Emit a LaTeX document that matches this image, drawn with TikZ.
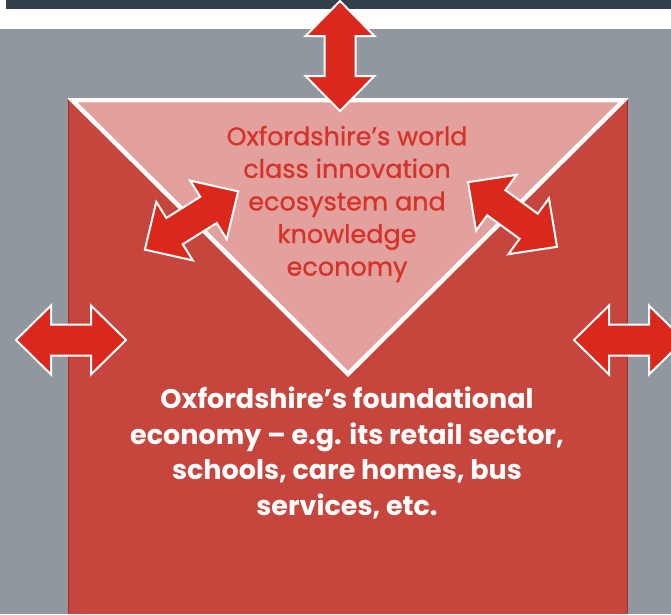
\documentclass[tikz,border=0pt]{standalone}
\usepackage{fontspec}
\setmainfont{Poppins}
\newfontfamily\upperfont[FakeBold=0.8]{Poppins}
\definecolor{darkbar}{HTML}{333F4A}
\definecolor{bggray}{HTML}{90979E}
\definecolor{boxred}{HTML}{C6453D}
\definecolor{boxedge}{HTML}{A82A20}
\definecolor{pinktri}{HTML}{E3A19D}
\definecolor{arrred}{HTML}{DA291C}
\definecolor{txtred}{HTML}{D7322A}
\tikzset{
  dblarrowshape/.style={fill=arrred, draw=white, line width=2pt, line join=miter},
  uppertext/.style={text=txtred, align=center, inner sep=0pt, font=\upperfont\fontsize{25.5}{32.6}\selectfont},
  lowertext/.style={text=white, align=center, inner sep=0pt, font=\bfseries\fontsize{27}{35.5}\selectfont}
}
\newcommand{\dblarrowat}[3]{%
  \begin{scope}[shift={#1}, rotate=#2]
    \coordinate (#3) at (0,0);
    \path[dblarrowshape] (-55,0) -- (-20,34.5) -- (-20,15.5) -- (20,15.5) -- (20,34.5) -- (55,0)
      -- (20,-34.5) -- (20,-15.5) -- (-20,-15.5) -- (-20,-34.5) -- cycle;
  \end{scope}}
\begin{document}
\begin{tikzpicture}[x=1pt,y=-1pt]
\useasboundingbox (0,0) rectangle (671,614);
% background
\fill[white] (0,0) rectangle (671,614);
\fill[darkbar] (6,0) rectangle (671,8.5);
\fill[bggray] (0,29) rectangle (671,614);
% red square
\fill[boxred] (68,98) rectangle (628,614);
\draw[boxedge, line width=1.2pt] (68.6,98) -- (68.6,614);
\draw[boxedge, line width=1.2pt] (627.4,98) -- (627.4,614);
% triangle
\begin{scope}
  \clip (68,98) rectangle (628,614);
  \path[fill=pinktri, draw=white, line width=4.5pt, line join=miter]
    (72,100) -- (624,100) -- (348,374) -- cycle;
\end{scope}
% texts
\node[uppertext] (inno) at (347,204) {Oxfordshire’s world\\class innovation\\ecosystem and\\knowledge\\economy};
\node[lowertext] (found) at (347,453) {Oxfordshire’s foundational\\economy – e.g. its retail sector,\\schools, care homes, bus\\services, etc.};
% arrows
\dblarrowat{(340,56)}{90}{atop}
\dblarrowat{(71,340)}{0}{aleft}
\dblarrowat{(629,340)}{0}{aright}
\dblarrowat{(191.5,220.5)}{32}{adl}
\dblarrowat{(512.5,214.5)}{-36}{adr}
\end{tikzpicture}
\end{document}
